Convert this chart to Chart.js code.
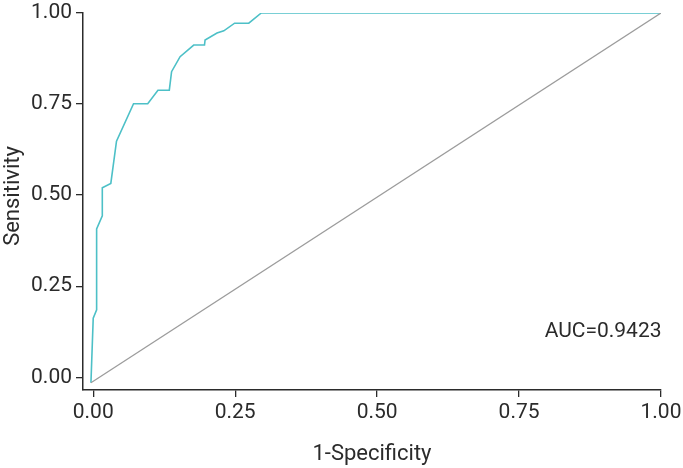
<!DOCTYPE html>
<html>
<head>
<meta charset="utf-8">
<script src="https://cdn.jsdelivr.net/npm/chart.js@4"></script>
<style>
  body { margin: 0; background: #fff; }
  #wrap { width: 683px; height: 468px; }
</style>
</head>
<body>
<div id="wrap"><canvas id="myChart"></canvas></div>
<script>
// ROC curve
const rocX = [-0.004, 0.0, 0.006, 0.006, 0.016, 0.016, 0.031, 0.041, 0.071, 0.096, 0.114, 0.134, 0.138, 0.153, 0.177, 0.196, 0.197, 0.218, 0.230, 0.249, 0.274, 0.296, 1.0];
const rocY = [-0.015, 0.162, 0.185, 0.407, 0.443, 0.520, 0.532, 0.648, 0.751, 0.751, 0.788, 0.788, 0.839, 0.880, 0.912, 0.912, 0.926, 0.945, 0.951, 0.972, 0.972, 1.0, 1.0];
const refX = [-0.004, 1.0];
const refY = [-0.015, 1.0];
const tickValues = [0, 0.25, 0.5, 0.75, 1];
const aucLabel = 'AUC=0.9423';
const xTitle = '1-Specificity';
const yTitle = 'Sensitivity';

const font = 'Roboto';
const ink = '#2b2b2b';

function toPoints(xs, ys) {
  return xs.map((x, i) => ({ x: x, y: ys[i] }));
}

// AUC note + rotated y title
const extraText = {
  id: 'extraText',
  afterDraw(chart) {
    const c = chart.ctx;
    const xs = chart.scales.x, ys = chart.scales.y;
    c.save();
    c.fillStyle = ink;
    c.textAlign = 'center';
    c.textBaseline = 'middle';
    c.font = '21px ' + font;
    c.fillText(aucLabel, xs.getPixelForValue(0.898), ys.getPixelForValue(0.124));
    c.font = '22px ' + font;
    c.translate(13, 196);
    c.rotate(-Math.PI / 2);
    c.fillText(yTitle, 0, 0);
    c.restore();
  }
};

const ctx = document.getElementById('myChart');
new Chart(ctx, {
  type: 'scatter',
  data: {
    datasets: [{
      data: toPoints(refX, refY),
      showLine: true,
      borderColor: '#9c9c9c',
      borderWidth: 1.3,
      pointRadius: 0
    }, {
      data: toPoints(rocX, rocY),
      showLine: true,
      borderColor: '#4dc0c7',
      borderWidth: 1.6,
      pointRadius: 0
    }]
  },
  options: {
    responsive: true,
    maintainAspectRatio: false,
    animation: false,
    layout: { padding: { top: 13, right: 22, left: 0, bottom: 0 } },
    plugins: { legend: { display: false }, tooltip: { enabled: false } },
    scales: {
      x: {
        type: 'linear',
        min: -0.018,
        max: 1,
        afterBuildTicks(s) { s.ticks = tickValues.map(v => ({ value: v })); },
        afterFit(s) { s.height = 78; s.paddingRight = 0; s.paddingLeft = 0; },
        ticks: {
          color: ink,
          font: { family: font, size: 21 },
          padding: 3,
          maxRotation: 0,
          callback: v => Number(v).toFixed(2)
        },
        grid: { drawOnChartArea: false, drawTicks: true, tickLength: 7, color: ink, lineWidth: 1.3 },
        border: { display: true, color: ink, width: 1.5 },
        title: {
          display: true,
          text: xTitle,
          color: ink,
          font: { family: font, size: 22 },
          padding: { top: 0, bottom: 0 }
        }
      },
      y: {
        type: 'linear',
        min: -0.035,
        max: 1,
        afterBuildTicks(s) { s.ticks = tickValues.map(v => ({ value: v })); },
        afterFit(s) { s.width = 83; s.paddingTop = 0; s.paddingBottom = 0; },
        ticks: {
          color: ink,
          font: { family: font, size: 21 },
          padding: 4,
          callback: v => Number(v).toFixed(2)
        },
        grid: { drawOnChartArea: false, drawTicks: true, tickLength: 7, color: ink, lineWidth: 1.3 },
        border: { display: true, color: ink, width: 1.5 }
      }
    }
  },
  plugins: [extraText]
});
</script>
</body>
</html>
